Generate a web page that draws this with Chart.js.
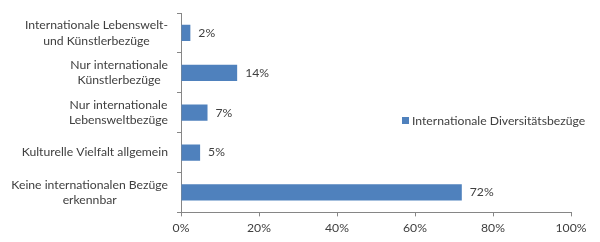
<!DOCTYPE html>
<html>
<head>
<meta charset="utf-8">
<script src="https://cdn.jsdelivr.net/npm/chart.js@4/dist/chart.umd.min.js"></script>
<style>
  html, body { margin: 0; padding: 0; background: #fff; }
  #wrap { width: 600px; height: 242px; }
</style>
</head>
<body>
<div id="wrap"><canvas id="chart"></canvas></div>
<script>
// categories, top to bottom
const categories = [
  ['Internationale Lebenswelt-', 'und Künstlerbezüge'],
  ['Nur internationale', 'Künstlerbezüge'],
  ['Nur internationale', 'Lebensweltbezüge'],
  'Kulturelle Vielfalt allgemein',
  ['Keine internationalen Bezüge', 'erkennbar']
];
const seriesName = 'Internationale Diversitätsbezüge';
const values = [2.4, 14.4, 6.8, 4.9, 72];
const xTicks = [0, 20, 40, 60, 80, 100];

let barColor = '#4F81BD';
let textColor = '#404040';
let axisColor = '#868686';
let fontFamily = 'Lato, "Open Sans", sans-serif';
let fontSize = 12.2;

// value labels to the right of each bar
const valueLabels = {
  id: 'valueLabels',
  afterDatasetsDraw(chart){
    let ctx = chart.ctx;
    let meta = chart.getDatasetMeta(0);
    ctx.save();
    ctx.font = fontSize + 'px ' + fontFamily;
    ctx.fillStyle = textColor;
    ctx.textBaseline = 'middle';
    ctx.textAlign = 'left';
    for(let i=0; i<meta.data.length; i++){
      let bar = meta.data[i];
      ctx.fillText(Math.round(values[i]) + '%', bar.x + 8, bar.y);
    }
    ctx.restore();
  }
};

// category labels: block right aligned, lines centered to each other (like Excel)
const categoryLabels = {
  id: 'categoryLabels',
  afterDraw(chart){
    let ctx = chart.ctx;
    let yScale = chart.scales.y;
    let right = yScale.right - 13;
    let lineHeight = 15.5;
    ctx.save();
    ctx.font = fontSize + 'px ' + fontFamily;
    ctx.fillStyle = textColor;
    ctx.textBaseline = 'middle';
    ctx.textAlign = 'center';
    for(let i=0; i<categories.length; i++){
      let lines = Array.isArray(categories[i]) ? categories[i] : [categories[i]];
      let blockWidth = 0;
      for(let j=0; j<lines.length; j++){
        blockWidth = Math.max(blockWidth, ctx.measureText(lines[j]).width);
      }
      let cx = right - blockWidth / 2;
      let cy = yScale.getPixelForTick(i);
      let top = cy - (lines.length - 1) * lineHeight / 2;
      for(let j=0; j<lines.length; j++){
        ctx.fillText(lines[j], cx, top + j * lineHeight);
      }
    }
    ctx.restore();
  }
};

// legend sits inside the empty area on the right, like the original
const sideLegend = {
  id: 'sideLegend',
  afterDraw(chart){
    let ctx = chart.ctx;
    let x = 402, y = 121;
    ctx.save();
    ctx.fillStyle = chart.data.datasets[0].backgroundColor;
    ctx.fillRect(x, y - 4, 7, 7);
    ctx.font = fontSize + 'px ' + fontFamily;
    ctx.fillStyle = textColor;
    ctx.textBaseline = 'middle';
    ctx.fillText(chart.data.datasets[0].label, x + 10, y);
    ctx.restore();
  }
};

let ctx = document.getElementById('chart').getContext('2d');
let chart = new Chart(ctx, {
  type: 'bar',
  data: {
    labels: categories,
    datasets: [{
      label: seriesName,
      data: values,
      backgroundColor: barColor,
      borderWidth: 0,
      categoryPercentage: 1,
      barPercentage: 0.41
    }]
  },
  options: {
    indexAxis: 'y',
    responsive: true,
    maintainAspectRatio: false,
    animation: false,
    layout: { padding: { left: 0, right: 29, top: 13, bottom: 3 } },
    plugins: {
      legend: { display: false },
      tooltip: { enabled: false }
    },
    scales: {
      x: {
        min: 0,
        max: 100,
        afterBuildTicks(axis){
          axis.ticks = xTicks.map(v => ({ value: v }));
        },
        border: { color: axisColor, width: 1 },
        grid: { drawOnChartArea: false, color: axisColor, tickLength: 4 },
        ticks: {
          color: textColor,
          font: { family: fontFamily, size: fontSize },
          padding: 4,
          maxRotation: 0,
          callback: v => v + '%'
        }
      },
      y: {
        afterFit(axis){
          axis.width = 181;
        },
        border: { color: axisColor, width: 1 },
        grid: { drawOnChartArea: false, color: axisColor, tickLength: 4, offset: true },
        ticks: { display: false }
      }
    }
  },
  plugins: [valueLabels, categoryLabels, sideLegend]
});
</script>
</body>
</html>
